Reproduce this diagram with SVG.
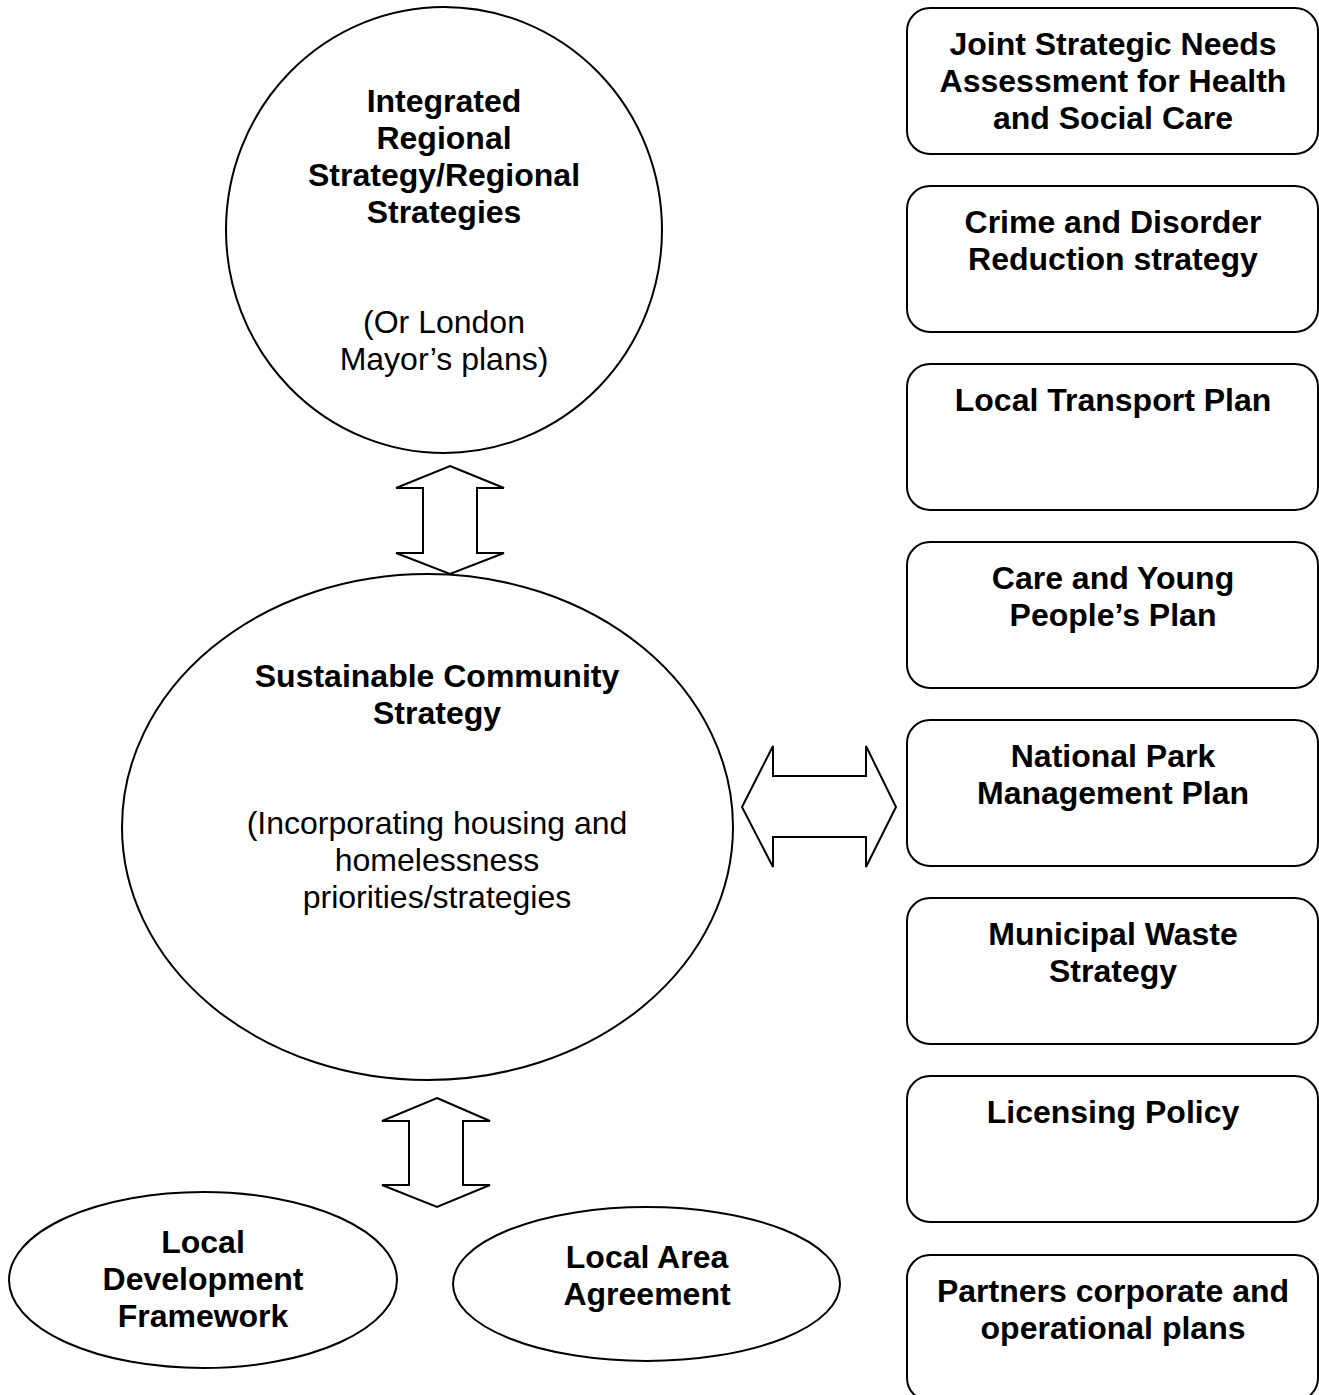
<svg xmlns="http://www.w3.org/2000/svg" width="1319" height="1395" viewBox="0 0 1319 1395">
  <style>
    .shape { fill: #ffffff; stroke: #000000; stroke-width: 2; }
    .arrow { fill: #ffffff; stroke: #000000; stroke-width: 2; stroke-linejoin: miter; }
    text { font-family: "Liberation Sans", Arial, sans-serif; font-size: 32px; fill: #000000; text-anchor: middle; }
    .b { font-weight: bold; }
  </style>
  <rect width="1319" height="1395" fill="#ffffff"/>

  <!-- block arrows linking the strategies -->
  <g id="connectors">
    <polygon class="arrow" points="450,466 504,488 477,488 477,553 504,553 450,574 396,553 423,553 423,488 396,488"/>
    <polygon class="arrow" points="742,807 773,746 773,776 866,776 866,746 896,807 866,867 866,837 773,837 773,867"/>
    <polygon class="arrow" points="437,1098 490,1121 463,1121 463,1185 490,1185 437,1207 382,1185 409,1185 409,1121 382,1121"/>
  </g>

  <g id="regional-strategy">
    <ellipse class="shape" cx="444" cy="230" rx="218" ry="223"/>
    <text class="b" x="444" y="112">Integrated</text>
    <text class="b" x="444" y="149">Regional</text>
    <text class="b" x="444" y="186">Strategy/Regional</text>
    <text class="b" x="444" y="223">Strategies</text>
    <text x="444" y="333">(Or London</text>
    <text x="444" y="370">Mayor’s plans)</text>
  </g>

  <g id="community-strategy">
    <ellipse class="shape" cx="427.5" cy="827" rx="305.5" ry="253"/>
    <text class="b" x="437" y="687">Sustainable Community</text>
    <text class="b" x="437" y="724">Strategy</text>
    <text x="437" y="834">(Incorporating housing and</text>
    <text x="437" y="871">homelessness</text>
    <text x="437" y="908">priorities/strategies</text>
  </g>

  <g id="local-development-framework">
    <ellipse class="shape" cx="203" cy="1280" rx="194" ry="88"/>
    <text class="b" x="203" y="1253">Local</text>
    <text class="b" x="203" y="1290">Development</text>
    <text class="b" x="203" y="1327">Framework</text>
  </g>

  <g id="local-area-agreement">
    <ellipse class="shape" cx="646.5" cy="1284" rx="193.5" ry="77"/>
    <text class="b" x="647" y="1268">Local Area</text>
    <text class="b" x="647" y="1305">Agreement</text>
  </g>

  <g id="jsna">
    <rect class="shape" x="907" y="8" width="411" height="146" rx="23" ry="23"/>
    <text class="b" x="1113" y="55">Joint Strategic Needs</text>
    <text class="b" x="1113" y="92">Assessment for Health</text>
    <text class="b" x="1113" y="129">and Social Care</text>
  </g>

  <g id="crime-disorder">
    <rect class="shape" x="907" y="186" width="411" height="146" rx="23" ry="23"/>
    <text class="b" x="1113" y="233">Crime and Disorder</text>
    <text class="b" x="1113" y="270">Reduction strategy</text>
  </g>

  <g id="local-transport">
    <rect class="shape" x="907" y="364" width="411" height="146" rx="23" ry="23"/>
    <text class="b" x="1113" y="411">Local Transport Plan</text>
  </g>

  <g id="young-people">
    <rect class="shape" x="907" y="542" width="411" height="146" rx="23" ry="23"/>
    <text class="b" x="1113" y="589">Care and Young</text>
    <text class="b" x="1113" y="626">People’s Plan</text>
  </g>

  <g id="national-park">
    <rect class="shape" x="907" y="720" width="411" height="146" rx="23" ry="23"/>
    <text class="b" x="1113" y="767">National Park</text>
    <text class="b" x="1113" y="804">Management Plan</text>
  </g>

  <g id="municipal-waste">
    <rect class="shape" x="907" y="898" width="411" height="146" rx="23" ry="23"/>
    <text class="b" x="1113" y="945">Municipal Waste</text>
    <text class="b" x="1113" y="982">Strategy</text>
  </g>

  <g id="licensing">
    <rect class="shape" x="907" y="1076" width="411" height="146" rx="23" ry="23"/>
    <text class="b" x="1113" y="1123">Licensing Policy</text>
  </g>

  <g id="partners-plans">
    <rect class="shape" x="907" y="1255" width="411" height="146" rx="23" ry="23"/>
    <text class="b" x="1113" y="1302">Partners corporate and</text>
    <text class="b" x="1113" y="1339">operational plans</text>
  </g>
</svg>
